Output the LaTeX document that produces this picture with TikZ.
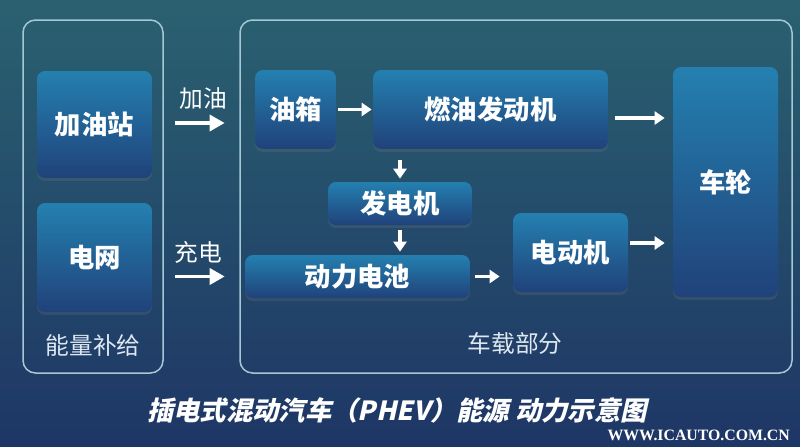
\documentclass[tikz,border=0pt]{standalone}
\usepackage{fontspec}
\setmainfont{Noto Sans CJK SC}
\newfontfamily\titlefont{Noto Sans CJK SC}[FakeSlant=0.22]
\newfontfamily\wmfont{Liberation Serif}
\usetikzlibrary{arrows.meta, calc, shadows}
\definecolor{bgtop}{RGB}{42,97,112}
\definecolor{bgbot}{RGB}{30,54,102}
\definecolor{boxtop}{RGB}{36,128,176}
\definecolor{boxbot}{RGB}{32,66,122}
\definecolor{framecol}{RGB}{165,200,212}
\definecolor{labelcol}{RGB}{222,232,240}

\begin{document}
\begin{tikzpicture}[x=0.02cm, y=-0.02cm,
    box/.style={rounded corners=0.16cm, top color=boxtop, bottom color=boxbot,
        text=white, font=\fontsize{15}{18}\selectfont\bfseries,
        drop shadow={opacity=0.2, shadow xshift=0cm, shadow yshift=-0.06cm}},
    panel/.style={draw=framecol, line width=0.03cm, rounded corners=0.25cm},
    flow/.style={-{Triangle[length=0.2cm, width=0.26cm]}, white, line width=0.07cm},
    bigflow/.style={flow, -{Triangle[length=0.3cm, width=0.32cm]}},
    tag/.style={text=labelcol, font=\fontsize{13.5}{16}\selectfont}]

    % Background
    \shade[top color=bgtop, bottom color=bgbot] (0,0) rectangle (800,446);

    % Panels
    \draw[panel] (23,20) rectangle (163,373);
    \draw[panel] (240,20) rectangle (792,373);
    \node[tag] (supply) at (93,345) {能量补给};
    \node[tag] (onboard) at (515,343) {车载部分};

    % Energy supply
    \node[box, minimum width=2.3cm, minimum height=2.14cm] (station) at (94.5,124.5) {加油站};
    \node[box, minimum width=2.3cm, minimum height=2.18cm] (grid) at (94.5,257.5) {电网};

    % On-board parts
    \node[box, minimum width=1.62cm, minimum height=1.58cm] (tank) at (295.5,109.5) {油箱};
    \node[box, minimum width=4.7cm, minimum height=1.58cm] (engine) at (490.5,109.5) {燃油发动机};
    \node[box, minimum width=2.88cm, minimum height=0.86cm] (generator) at (400,203.5) {发电机};
    \node[box, minimum width=4.5cm, minimum height=0.86cm] (battery) at (357.5,276.5) {动力电池};
    \node[box, minimum width=2.3cm, minimum height=1.58cm] (motor) at (570.5,252.5) {电动机};
    \node[box, minimum width=2.1cm, minimum height=4.6cm] (wheel) at (725.5,182) {车轮};

    % Energy flow
    \draw[bigflow, shorten <=0.46cm, shorten >=0.6cm] ([yshift=0.03cm]station.east) -- ([yshift=0.03cm]station.east -| tank.west)
        node[midway, above=0.12cm, text=white, font=\fontsize{13.5}{16}\selectfont] (fuel) {加油};
    \draw[bigflow, shorten <=0.46cm, shorten >=0.4cm] (battery.west -| grid.east) -- (battery.west)
        node[midway, above=0.1cm, text=white, font=\fontsize{13.5}{16}\selectfont] (charge) {充电};
    \draw[flow, shorten <=0.04cm, shorten >=0.02cm] (tank) -- (engine);
    \draw[flow, shorten <=0.14cm, shorten >=0.16cm] ([yshift=-0.17cm]engine.east) -- ([yshift=-0.17cm]engine.east -| wheel.west);
    \draw[flow, shorten <=0.22cm, shorten >=0.06cm] (engine.south -| generator.north) -- (generator.north);
    \draw[flow, shorten <=0.1cm, shorten >=0.06cm] (generator) -- (generator.south |- battery.north);
    \draw[flow, shorten <=0.1cm, shorten >=0.26cm] (battery.east) -- (battery.east -| motor.west);
    \draw[flow, shorten <=0.04cm, shorten >=0.16cm] ([yshift=0.19cm]motor.east) -- ([yshift=0.19cm]motor.east -| wheel.west);

    % Title
    \node[text=white, font=\titlefont\fontsize{15}{18}\selectfont\bfseries] (title) at (397,410) {插电式混动汽车（PHEV）能源 动力示意图};
    \node[text=white, font=\wmfont\fontsize{9}{10}\selectfont\bfseries, anchor=east] (mark) at (796,435) {WWW.ICAUTO.COM.CN};

\end{tikzpicture}
\end{document}
